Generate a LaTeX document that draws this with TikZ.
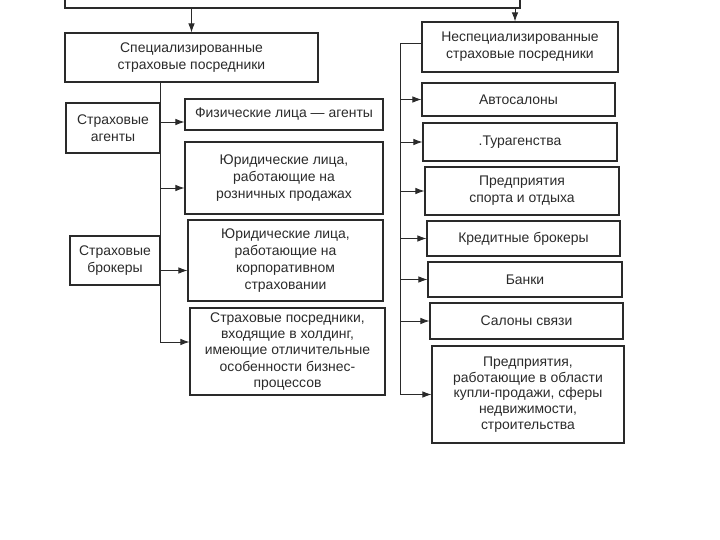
\documentclass[tikz,border=0pt]{standalone}
\usepackage{fontspec}
\setmainfont{Liberation Sans}
\usetikzlibrary{arrows.meta}
\definecolor{ink}{HTML}{2A2A2A}
\begin{document}
\begin{tikzpicture}[x=1bp,y=-1bp,
  every node/.style={font=\fontsize{14}{17}\selectfont, text=ink},
  box/.style={draw=ink, line width=1.2pt, align=center, inner sep=0pt},
  wh/.style 2 args={minimum width=#1bp, minimum height=#2bp},
  feed/.style={draw=ink, line width=0.8pt, -{Latex[length=9pt,width=6.5pt]}},
  link/.style={draw=ink, line width=0.8pt}]
\useasboundingbox (0,0) rectangle (720,540);
\clip (0,0) rectangle (720,540);
% upper level
\node[box, wh={455}{60}] (top) at (292.5,-22) {};
\node[box, wh={253}{49}] (spec) at (191.5,57.5) {Специализированные\\страховые посредники};
\node[box, wh={196}{50}] (nonspec) at (520,47) {Неспециализированные\\страховые посредники};
\coordinate (nsin) at ([xshift=-5bp]nonspec.north);
\draw[feed] (spec.north |- top.south) -- (spec.north);
\draw[feed] (nsin |- top.south) -- (nsin);
% specialized intermediaries
\coordinate (ls) at (160,0);
\node[box, wh={94}{50}] (agents) at (113,128) {Страховые\\агенты};
\node[box, wh={90}{49}] (brokers) at (115,260.5) {Страховые\\брокеры};
\node[box, wh={198}{31}] (phys) at (284,114.5) {Физические лица — агенты};
\node[box, wh={198}{72}] (retail) at (284,178) {Юридические лица,\\работающие на\\розничных продажах};
\node[box, wh={195}{81}] (corp) at (285.5,260.5) {Юридические лица,\\работающие на\\корпоративном\\страховании};
\node[box, wh={195}{87}, font=\fontsize{14}{16.3}\selectfont] (holding) at (287.5,351.5) {Страховые посредники,\\входящие в холдинг,\\имеющие отличительные\\особенности бизнес-\\процессов};
\coordinate (physin) at ([yshift=-7.5bp]phys.west);
\coordinate (retailin) at ([yshift=-10bp]retail.west);
\coordinate (corpin) at ([yshift=-10bp]corp.west);
\coordinate (holdingin) at ([yshift=9.5bp]holding.west);
\draw[link] (ls |- spec.south) -- (ls |- holdingin);
\foreach \p in {physin,retailin,corpin,holdingin}
  \draw[feed] (ls |- \p) -- (\p);
% non-specialized intermediaries
\coordinate (rs) at (400,0);
\node[box, wh={193}{33}] (auto) at (518.5,99.5) {Автосалоны};
\node[box, wh={194}{38}] (tour) at (520,142) {.Турагенства};
\node[box, wh={194}{48}] (sport) at (522,191) {Предприятия\\спорта и отдыха};
\node[box, wh={193}{35}] (credit) at (523.5,238.5) {Кредитные брокеры};
\node[box, wh={194}{35}] (banks) at (525,279.5) {Банки};
\node[box, wh={193}{36}] (salons) at (526.5,321) {Салоны связи};
\node[box, wh={192}{97}, font=\fontsize{14}{15.8}\selectfont] (realty) at (528,394.5) {Предприятия,\\работающие в области\\купли-продажи, сферы\\недвижимости,\\строительства};
\coordinate (nsout) at ([yshift=4bp]nonspec.west);
\draw[link] (nsout) -| (rs |- realty.west);
\foreach \n in {auto,tour,sport,credit,banks,salons,realty}
  \draw[feed] (rs |- \n.west) -- (\n.west);
\end{tikzpicture}
\end{document}
